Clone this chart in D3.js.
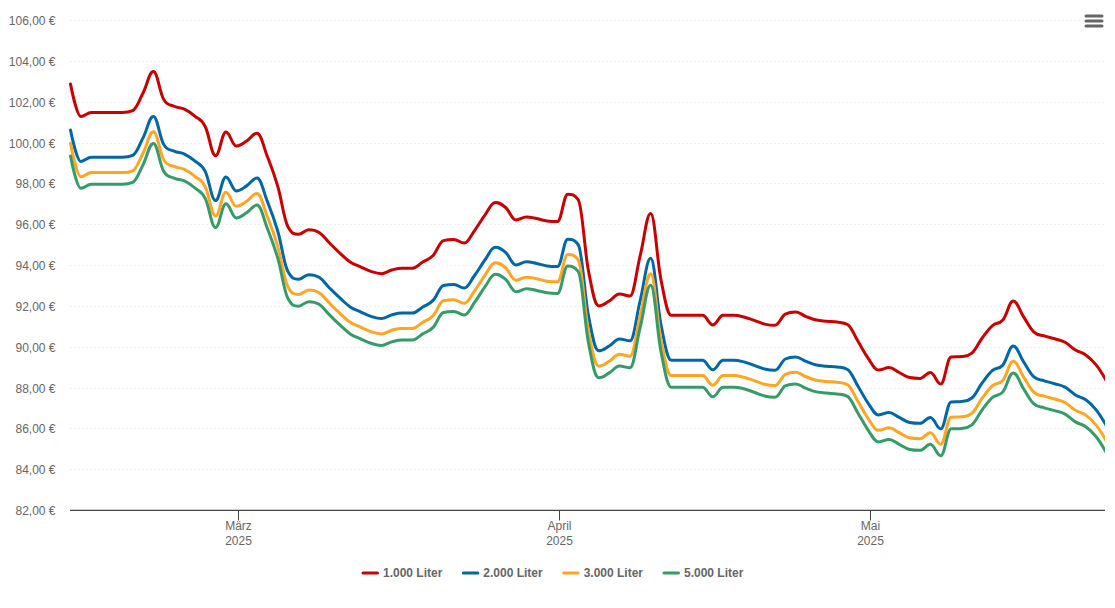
<!DOCTYPE html>
<html lang="de">
<head>
<meta charset="utf-8">
<title>Heizölpreise</title>
<script src="https://cdn.jsdelivr.net/npm/d3@7"></script>
<style>
  html, body { margin: 0; padding: 0; background: #fff; }
  svg { display: block; font-family: "Liberation Sans", Arial, sans-serif; }
  .grid-line { stroke: #e0e0e0; stroke-width: 1; stroke-dasharray: 1 3; }
  .tick-label { fill: #666; font-size: 12px; }
  .legend-label { fill: #666; font-size: 12px; font-weight: bold; }
</style>
</head>
<body>
<div id="chart"></div>
<script>
// Values, one per day
const seriesNames = ["1.000 Liter", "2.000 Liter", "3.000 Liter", "5.000 Liter"];
const seriesColors = ["#cc0000", "#0068a8", "#ffa522", "#359c69"];

const liter1000 = [
  102.89,101.30,101.50,101.50,101.50,101.50,101.59,102.45,103.50,102.13,
  101.80,101.66,101.32,100.81,99.38,100.54,99.85,100.10,100.48,99.34,
  97.89,95.89,95.53,95.75,95.62,95.10,94.61,94.17,93.93,93.71,
  93.60,93.78,93.87,93.87,94.17,94.49,95.22,95.27,95.10,95.71,
  96.47,97.09,96.84,96.23,96.38,96.30,96.18,96.15,97.49,97.23,
  93.73,92.02,92.26,92.60,92.51,94.51,96.55,93.29,91.56,91.56,
  91.56,91.56,91.09,91.56,91.56,91.48,91.31,91.13,91.07,91.62,
  91.72,91.50,91.33,91.27,91.23,91.11,90.30,89.45,88.88,89.00,
  88.76,88.51,88.47,88.76,88.20,89.52,89.54,89.71,90.45,91.06,
  91.33,92.26,91.48,90.74,90.55,90.41,90.24,89.86,89.62,89.13,88.34,
];
const liter2000 = [
  100.64,99.10,99.30,99.30,99.30,99.30,99.39,100.25,101.30,99.93,
  99.60,99.46,99.12,98.61,97.18,98.34,97.65,97.90,98.28,97.14,
  95.69,93.69,93.33,93.55,93.42,92.90,92.41,91.97,91.73,91.51,
  91.40,91.58,91.67,91.67,91.97,92.29,93.02,93.07,92.90,93.51,
  94.27,94.89,94.64,94.03,94.18,94.10,93.98,93.95,95.29,95.03,
  91.53,89.82,90.06,90.40,90.31,92.31,94.35,91.09,89.36,89.36,
  89.36,89.36,88.89,89.36,89.36,89.28,89.11,88.93,88.87,89.42,
  89.52,89.30,89.13,89.07,89.03,88.91,88.10,87.25,86.68,86.80,
  86.56,86.31,86.27,86.56,86.00,87.32,87.34,87.51,88.25,88.86,
  89.13,90.06,89.28,88.54,88.35,88.21,88.04,87.66,87.42,86.93,86.14,
];
const liter3000 = [
  99.99,98.35,98.55,98.55,98.55,98.55,98.64,99.50,100.55,99.18,
  98.85,98.71,98.37,97.86,96.43,97.59,96.90,97.15,97.53,96.39,
  94.94,92.94,92.58,92.80,92.67,92.15,91.66,91.22,90.98,90.76,
  90.65,90.83,90.92,90.92,91.22,91.54,92.27,92.32,92.15,92.76,
  93.52,94.14,93.89,93.28,93.43,93.35,93.23,93.20,94.54,94.28,
  90.78,89.07,89.31,89.65,89.56,91.56,93.60,90.34,88.61,88.61,
  88.61,88.61,88.14,88.61,88.61,88.53,88.36,88.18,88.12,88.67,
  88.77,88.55,88.38,88.32,88.28,88.16,87.35,86.50,85.93,86.05,
  85.81,85.56,85.52,85.81,85.25,86.57,86.59,86.76,87.50,88.11,
  88.38,89.31,88.53,87.79,87.60,87.46,87.29,86.91,86.67,86.18,85.39,
];
const liter5000 = [
  99.36,97.78,97.98,97.98,97.98,97.98,98.07,98.93,99.98,98.61,
  98.28,98.14,97.80,97.29,95.86,97.02,96.33,96.58,96.96,95.82,
  94.37,92.37,92.01,92.23,92.10,91.58,91.09,90.65,90.41,90.19,
  90.08,90.26,90.35,90.35,90.65,90.97,91.70,91.75,91.58,92.19,
  92.95,93.57,93.32,92.71,92.86,92.78,92.66,92.63,93.97,93.71,
  90.21,88.50,88.74,89.08,88.99,90.99,93.03,89.77,88.04,88.04,
  88.04,88.04,87.57,88.04,88.04,87.96,87.79,87.61,87.55,88.10,
  88.20,87.98,87.81,87.75,87.71,87.59,86.78,85.93,85.36,85.48,
  85.24,84.99,84.95,85.24,84.68,86.00,86.02,86.19,86.93,87.54,
  87.81,88.74,87.96,87.22,87.03,86.89,86.72,86.34,86.10,85.61,84.82,
];
const seriesValues = [liter1000, liter2000, liter3000, liter5000];

const yTicks = [82, 84, 86, 88, 90, 92, 94, 96, 98, 100, 102, 104, 106];
const xTicks = [
  { date: new Date(Date.UTC(2025, 2, 1)), month: "März", year: "2025" },
  { date: new Date(Date.UTC(2025, 3, 1)), month: "April", year: "2025" },
  { date: new Date(Date.UTC(2025, 4, 1)), month: "Mai", year: "2025" },
];

// One reading per day, taken in the evening
const dates = d3.utcDay
  .range(new Date(Date.UTC(2025, 1, 12)), new Date(Date.UTC(2025, 4, 24)))
  .map((d) => d3.utcHour.offset(d, 18));

const width = 1115;
const height = 608;
const plot = { left: 70.5, right: 1105, top: 20.5, bottom: 510.5 };

const svg = d3
  .select("#chart")
  .append("svg")
  .attr("width", width)
  .attr("height", height);

const x = d3
  .scaleUtc()
  .domain([dates[0], dates[dates.length - 1]])
  .range([plot.left, 1106.5]);

const y = d3.scaleLinear().domain([82, 106]).range([plot.bottom, plot.top]);

// Pixel-aligned tick positions so thin lines stay sharp
const tickX = (date) => Math.round(x(date)) - 0.5;
const tickY = (value) => Math.floor(y(value)) + 0.5;

// Spline with control points that never overshoot their neighbours
function splineCurve(context) {
  let points;
  const smoothing = 1.5;
  const denom = smoothing + 1;

  return {
    lineStart() {
      points = [];
    },
    point(px, py) {
      points.push([px, py]);
    },
    lineEnd() {
      const controls = points.map(([px, py], i) => {
        const last = points[i - 1];
        const next = points[i + 1];
        if (!last || !next) return { left: [px, py], right: [px, py] };

        const leftX = (smoothing * px + last[0]) / denom;
        const rightX = (smoothing * px + next[0]) / denom;
        let leftY = (smoothing * py + last[1]) / denom;
        let rightY = (smoothing * py + next[1]) / denom;

        // the two handles make a straight line through the point
        const correction =
          ((rightY - leftY) * (rightX - px)) / (rightX - leftX) + py - rightY;
        leftY += correction;
        rightY += correction;

        if (leftY > last[1] && leftY > py) {
          leftY = Math.max(last[1], py);
          rightY = 2 * py - leftY;
        } else if (leftY < last[1] && leftY < py) {
          leftY = Math.min(last[1], py);
          rightY = 2 * py - leftY;
        }
        if (rightY > next[1] && rightY > py) {
          rightY = Math.max(next[1], py);
          leftY = 2 * py - rightY;
        } else if (rightY < next[1] && rightY < py) {
          rightY = Math.min(next[1], py);
          leftY = 2 * py - rightY;
        }
        return { left: [leftX, leftY], right: [rightX, rightY] };
      });

      points.forEach(([px, py], i) => {
        if (i === 0) {
          context.moveTo(px, py);
          return;
        }
        const a = controls[i - 1].right;
        const b = controls[i].left;
        context.bezierCurveTo(a[0], a[1], b[0], b[1], px, py);
      });
    },
  };
}

// Y axis: dotted grid lines and euro labels
const yAxis = svg
  .append("g")
  .attr("transform", `translate(${plot.left},0)`)
  .call(
    d3
      .axisLeft(y)
      .tickValues(yTicks)
      .tickSize(-(plot.right - plot.left))
      .tickPadding(15)
      .tickFormat((d) => d3.format(".2f")(d).replace(".", ",") + " €")
  );
yAxis.select(".domain").remove();
yAxis.selectAll(".tick").attr("transform", (d) => `translate(0,${tickY(d)})`);
yAxis.selectAll("line").attr("class", "grid-line").attr("stroke", null);
yAxis
  .selectAll("text")
  .attr("class", "tick-label")
  .attr("y", 1)
  .attr("fill", null)
  .attr("font-size", null)
  .attr("font-family", null);

// X axis: month and year on two lines
const xAxis = svg
  .append("g")
  .attr("transform", `translate(0,${plot.bottom})`)
  .call(
    d3
      .axisBottom(x)
      .tickValues(xTicks.map((d) => d.date))
      .tickSize(10)
      .tickSizeOuter(0)
      .tickFormat("")
  );
xAxis
  .select(".domain")
  .attr("stroke", "#444")
  .attr("stroke-width", 1.3)
  .attr("d", `M70,-0.15H${plot.right}`);
xAxis.selectAll(".tick").attr("transform", (d) => `translate(${tickX(d)},0)`);
xAxis.selectAll(".tick line").attr("stroke", "#444").attr("x1", 0).attr("x2", 0);
xAxis.selectAll(".tick text").remove();

const xLabels = svg
  .append("g")
  .selectAll("text")
  .data(xTicks)
  .join("text")
  .attr("class", "tick-label")
  .attr("text-anchor", "middle")
  .attr("x", (d) => tickX(d.date))
  .attr("y", 530);
xLabels.append("tspan").text((d) => d.month);
xLabels
  .append("tspan")
  .attr("x", (d) => tickX(d.date))
  .attr("dy", 15)
  .text((d) => d.year);

// Price lines, clipped at the right edge of the plot
svg
  .append("clipPath")
  .attr("id", "plot-clip")
  .append("rect")
  .attr("x", plot.left - 2)
  .attr("y", 0)
  .attr("width", plot.right - plot.left + 2)
  .attr("height", height);

const line = d3
  .line()
  .x((d, i) => x(dates[i]))
  .y((d) => y(d))
  .curve(splineCurve);

svg
  .append("g")
  .attr("clip-path", "url(#plot-clip)")
  .selectAll("path")
  .data(seriesValues)
  .join("path")
  .attr("d", line)
  .attr("fill", "none")
  .attr("stroke", (d, i) => seriesColors[i])
  .attr("stroke-width", 3)
  .attr("stroke-linejoin", "round")
  .attr("stroke-linecap", "round");

// Legend
const legendX = d3
  .scalePoint()
  .domain(seriesNames)
  .range([362, 663]);

const legendItems = svg
  .append("g")
  .selectAll("g")
  .data(seriesNames)
  .join("g")
  .attr("transform", (d) => `translate(${legendX(d)},573)`);
legendItems
  .append("line")
  .attr("x1", 1)
  .attr("x2", 15.5)
  .attr("stroke", (d, i) => seriesColors[i])
  .attr("stroke-width", 3)
  .attr("stroke-linecap", "round");
legendItems
  .append("text")
  .attr("class", "legend-label")
  .attr("x", 21)
  .attr("y", 4)
  .text((d) => d);

// Menu button in the top right corner
svg
  .append("g")
  .selectAll("line")
  .data([16, 21, 26])
  .join("line")
  .attr("x1", 1086)
  .attr("x2", 1102)
  .attr("y1", (d) => d)
  .attr("y2", (d) => d)
  .attr("stroke", "#666")
  .attr("stroke-width", 3)
  .attr("stroke-linecap", "round");
</script>
</body>
</html>
